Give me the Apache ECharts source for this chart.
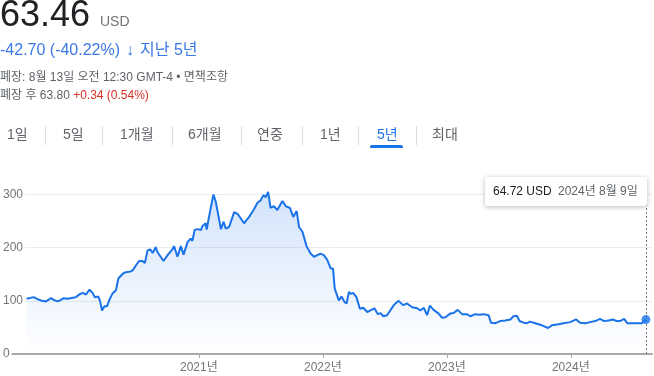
<!DOCTYPE html>
<html><head><meta charset="utf-8">
<script src="https://cdn.jsdelivr.net/npm/echarts@6/dist/echarts.min.js"></script>
<style>html,body{margin:0;padding:0;background:#fff}#c{width:654px;height:376px}</style>
</head><body><div id="c"></div>
<script>
const dates = ['2019-08-13','2019-09-03','2019-09-15','2019-09-27','2019-10-09','2019-10-24','2019-11-03','2019-11-13','2019-11-22','2019-11-30','2019-12-12','2019-12-27',
'2020-01-05','2020-01-15','2020-01-25','2020-02-04','2020-02-14','2020-02-23','2020-03-01','2020-03-11','2020-03-16','2020-03-22','2020-03-29','2020-04-06','2020-04-12','2020-04-22','2020-05-02','2020-05-09','2020-05-22','2020-05-31','2020-06-13','2020-06-21','2020-06-30','2020-07-09','2020-07-19','2020-07-26','2020-08-03','2020-08-11','2020-08-18','2020-08-27','2020-09-01','2020-09-19','2020-10-01','2020-10-16','2020-10-20','2020-10-30','2020-11-09','2020-11-17','2020-11-29','2020-12-08','2020-12-13','2020-12-20','2020-12-30',
'2021-01-07','2021-01-12','2021-01-21','2021-01-24','2021-02-02','2021-02-13','2021-02-20','2021-03-07','2021-03-15','2021-03-21','2021-03-31','2021-04-15','2021-04-26','2021-05-14','2021-05-29','2021-06-12','2021-06-23','2021-07-02','2021-07-10','2021-07-17','2021-07-24','2021-07-31','2021-08-10','2021-08-20','2021-09-04','2021-09-14','2021-09-26','2021-10-06','2021-10-16','2021-10-23','2021-11-02','2021-11-14','2021-11-26','2021-12-06','2021-12-16','2021-12-25',
'2022-01-04','2022-01-14','2022-01-24','2022-01-31','2022-02-05','2022-02-17','2022-02-25','2022-03-06','2022-03-12','2022-03-19','2022-03-24','2022-03-31','2022-04-10','2022-04-20','2022-04-30','2022-05-12','2022-05-21','2022-06-02','2022-06-12','2022-06-20','2022-06-28','2022-07-09','2022-07-29','2022-08-12','2022-08-25','2022-09-06','2022-09-21','2022-10-06','2022-10-15','2022-10-25','2022-11-04','2022-11-12','2022-11-23','2022-12-08','2022-12-18','2022-12-28',
'2023-01-11','2023-01-21','2023-02-02','2023-02-15','2023-03-01','2023-03-11','2023-03-26','2023-04-07','2023-04-19','2023-05-04','2023-05-11','2023-05-24','2023-06-07','2023-06-22','2023-07-07','2023-07-16','2023-07-26','2023-08-03','2023-08-15','2023-08-25','2023-09-03','2023-09-18','2023-10-08','2023-10-26','2023-11-06','2023-11-26','2023-12-10','2023-12-30',
'2024-01-17','2024-01-28','2024-02-12','2024-02-27','2024-03-13','2024-03-27','2024-04-08','2024-04-21','2024-05-04','2024-05-15','2024-05-25','2024-06-06','2024-06-15','2024-06-28','2024-07-13','2024-07-28','2024-08-09'];
const prices = [104,107,103,100,99,105,101,99,102,105,104,106,
107,112,115,112,121,115,107,108,100,82,90,90,101,114,120,142,151,154,155,158,167,175,175,171,195,197,190,201,192,175,186,198,203,183,203,187,211,217,213,234,235,
233,241,246,234,265,300,286,235,249,236,239,267,263,246,258,272,285,289,299,295,305,275,278,271,288,278,275,258,269,239,230,203,189,183,186,189,
186,177,161,161,123,101,108,98,95,117,113,115,107,85,87,79,82,86,75,77,71,73,92,100,92,95,88,86,82,87,73,91,83,76,68,69,
76,77,83,75,75,71,75,74,75,73,59,58,62,63,65,71,72,62,59,58,61,58,54,49,54,56,58,60,
65,59,58,60,62,66,62,63,65,62,62,66,58,58,58,58,64.72];
const yearTicks = ['2021-01-01','2022-01-01','2023-01-01','2024-01-01'];
const xRange = ['2019-06-28','2024-08-27'];
const yTicks = [0, 100, 200, 300];
const tabLabels = ['1일','5일','1개월','6개월','연중','1년','5년','최대'];
const activeTab = '5년';
const headPrice = '63.46';
const currency = 'USD';
const changeText = '-42.70 (-40.22%)';
const periodText = '지난 5년';
const closeText = '폐장: 8월 13일 오전 12:30 GMT-4 • 면책조항';
const afterLabel = '폐장 후 63.80';
const afterChange = '+0.34 (0.54%)';

// layout (not data)
const tabX = [7, 63, 120, 188, 257, 320, 377, 432];
const sepX = [45, 102, 172, 241, 302, 358, 416];

const FF = 'Arial, "Liberation Sans", "Noto Sans CJK KR", sans-serif';
const BLUE = '#1a73e8';
const pd = s => +echarts.number.parseDate(s);
const data = dates.map((d, i) => [pd(d), prices[i]]);
const last = data[data.length - 1];
const lastD = echarts.number.parseDate(dates[dates.length - 1]);
const tipDate = lastD.getFullYear() + '년 ' + (lastD.getMonth() + 1) + '월 ' + lastD.getDate() + '일';
const tipVal = last[1].toFixed(2) + ' ' + currency;
const yearVals = yearTicks.map(pd);

const graphic = [
  {type:'text', x:0, y:16, style:{text:headPrice, fill:'#202124', font:'36px ' + FF, verticalAlign:'middle'}},
  {type:'text', x:100, y:22, style:{text:currency, fill:'#70757a', font:'14px ' + FF, verticalAlign:'middle'}},
  {type:'text', x:0, y:51, style:{text:changeText, fill:'#3b78e7', font:'16px ' + FF, verticalAlign:'middle'}},
  {type:'text', x:126, y:51, style:{text:'↓', fill:'#3b78e7', font:'bold 16px ' + FF, verticalAlign:'middle'}},
  {type:'text', x:140, y:51, style:{text:periodText, fill:'#3b78e7', font:'16px ' + FF, verticalAlign:'middle'}},
  {type:'text', x:0, y:78, style:{text:closeText, fill:'#5f6368', font:'12px ' + FF, verticalAlign:'middle'}},
  {type:'text', x:0, y:96, style:{text:'{a|' + afterLabel + '} {b|' + afterChange + '}', font:'12px ' + FF, verticalAlign:'middle',
     rich:{a:{fill:'#5f6368', fontSize:12, fontFamily:FF}, b:{fill:'#d93025', fontSize:12, fontFamily:FF}}}},
];
tabLabels.forEach((t, i) => {
  graphic.push({type:'text', x:tabX[i], y:135, style:{text:t, fill: t === activeTab ? BLUE : '#5f6368', font:'14px ' + FF, verticalAlign:'middle'}});
});
sepX.forEach(x => graphic.push({type:'line', shape:{x1:x+0.5, y1:126, x2:x+0.5, y2:145}, style:{stroke:'#dadce0', lineWidth:1}}));
graphic.push({type:'rect', shape:{x:370, y:145, width:33, height:3, r:[2,2,0,0]}, style:{fill:BLUE}});
graphic.push({type:'rect', z:100, shape:{x:485, y:177, width:162, height:29, r:2}, style:{fill:'#fff', shadowBlur:5, shadowColor:'rgba(0,0,0,0.28)', shadowOffsetY:1}});
graphic.push({type:'text', z:101, x:493, y:192, style:{text:tipVal, fill:'#202124', font:'12px ' + FF, verticalAlign:'middle'}});
graphic.push({type:'text', z:101, x:558, y:192, style:{text:tipDate, fill:'#5f6368', font:'12px ' + FF, verticalAlign:'middle'}});

const chart = echarts.init(document.getElementById('c'), null, {renderer:'canvas'});
chart.setOption({
  animation:false,
  backgroundColor:'#fff',
  grid:{left:10, right:2, top:168, bottom:22},
  xAxis:{type:'value', min:pd(xRange[0]), max:pd(xRange[1]), scale:true,
    axisLine:{lineStyle:{color:'#a8a8a8', width:2}},
    axisTick:{show:true, length:4, lineStyle:{color:'#a8a8a8', width:1}, customValues:yearVals},
    axisLabel:{customValues:yearVals, formatter:v => new Date(v).getFullYear() + '년', color:'#70757a', fontSize:12, fontFamily:FF, margin:8},
    splitLine:{show:false}},
  yAxis:{type:'value', min:0, max:350, interval:100,
    axisLine:{show:false}, axisTick:{show:false},
    axisLabel:{align:'left', margin:8, color:'#70757a', fontSize:12, fontFamily:FF, showMaxLabel:false,
      backgroundColor:'#fff', padding:[1,2,1,0],
      formatter:v => yTicks.indexOf(v) >= 0 ? String(v) : ''},
    splitLine:{lineStyle:{color:'#ededed', width:1}, showMaxLine:false}},
  graphic: graphic,
  series:[
    {type:'line', data:data, showSymbol:false, symbol:'none', z:3,
     lineStyle:{color:BLUE, width:2}, itemStyle:{color:BLUE},
     areaStyle:{color:new echarts.graphic.LinearGradient(0,0,0,1,[{offset:0,color:'rgba(26,115,232,0.28)'},{offset:1,color:'rgba(26,115,232,0)'}])},
     markLine:{silent:true, symbol:'none', label:{show:false}, lineStyle:{color:'#777', type:[2,2], width:1},
       data:[[{coord:[last[0], 0]}, {coord:[last[0], 300]}]]}},
    {type:'scatter', data:[last], symbolSize:9, itemStyle:{color:BLUE}, z:5}
  ]
});
</script></body></html>
